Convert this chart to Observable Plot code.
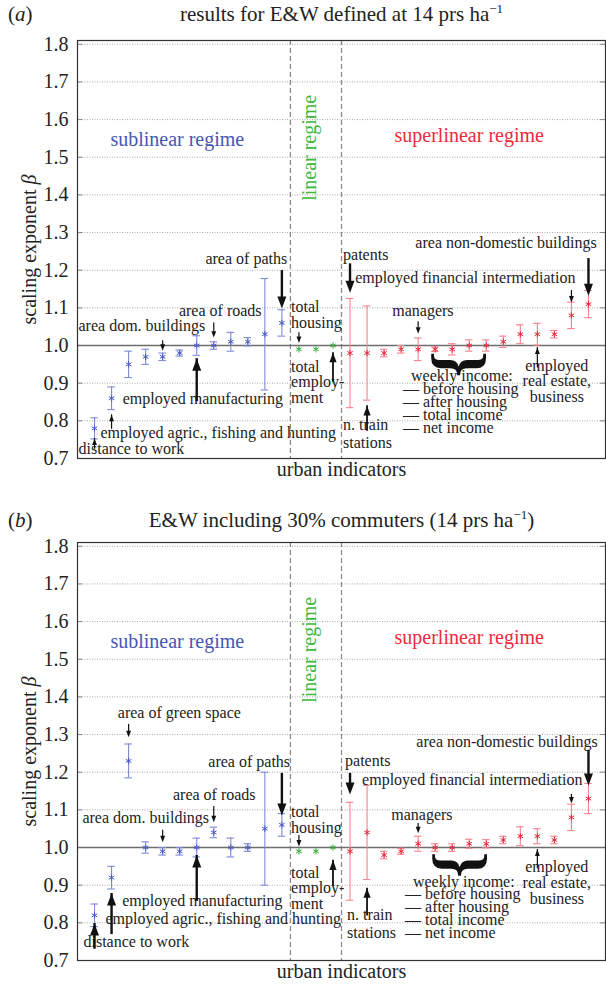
<!DOCTYPE html>
<html><head><meta charset="utf-8">
<script src="https://cdn.jsdelivr.net/npm/d3@7"></script>
<script src="https://cdn.jsdelivr.net/npm/@observablehq/plot@0.6"></script>
<style>
body{margin:0;background:#fff;font-family:"Liberation Serif",serif;color:#222;}
#wrap{width:606px;}
.hdr{position:relative;width:606px;}
.hdr .lab{position:absolute;left:8px;font-size:21px;line-height:20px;}
.hdr .ttl{position:absolute;left:77px;width:529px;text-align:center;font-size:21px;line-height:20px;white-space:nowrap;}
.sp{font-size:13px;position:relative;top:-8px;}
svg{display:block;}
svg text{font-family:"Liberation Serif",serif !important;}
</style></head><body><div id="wrap">
<div class="hdr" style="height:30px"><span class="lab" style="top:4px">(<i>a</i>)</span><span class="ttl" style="top:4px">results for E&amp;W defined at 14 prs ha<span class="sp">−1</span></span></div>
<div id="pa"></div>
<div class="hdr" style="height:50px"><span class="lab" style="top:28px">(<i>b</i>)</span><span class="ttl" style="top:28px">E&amp;W including 30% commuters (14 prs ha<span class="sp">−1</span>)</span></div>
<div id="pb"></div>
</div>
<script>
// indicator positions (1..30) and regimes
const idxSub = [1,2,3,4,5,6,7,8,9,10,11,12];
const idxLin = [13,14,15];
const idxSup = [16,17,18,19,20,21,22,23,24,25,26,27,28,29,30];
const yTicks = [0.7,0.8,0.9,1.0,1.1,1.2,1.3,1.4,1.5,1.6,1.7,1.8];

// panel (a)
const betaA_sub = [0.78,0.86,0.95,0.97,0.97,0.98,1.00,1.00,1.01,1.01,1.03,1.06];
const errA_sub  = [0.028,0.03,0.035,0.02,0.01,0.008,0.026,0.01,0.025,0.011,0.148,0.035];
const betaA_lin = [0.99,0.99,1.00];
const errA_lin  = [0.003,0.003,0.003];
const betaA_sup = [0.98,0.98,0.98,0.99,0.99,0.99,0.99,1.00,1.00,1.01,1.03,1.03,1.03,1.08,1.11];
const errA_sup  = [0.145,0.125,0.01,0.01,0.03,0.006,0.015,0.015,0.015,0.015,0.025,0.029,0.01,0.035,0.036];

// panel (b)
const betaB_sub = [0.82,0.92,1.23,1.00,0.99,0.99,1.00,1.04,1.00,1.00,1.05,1.06];
const errB_sub  = [0.03,0.03,0.045,0.015,0.01,0.01,0.025,0.014,0.025,0.01,0.15,0.03];
const betaB_lin = [0.99,0.99,1.00];
const errB_lin  = [0.003,0.003,0.003];
const betaB_sup = [0.99,1.04,0.98,0.99,1.01,1.00,1.00,1.01,1.01,1.02,1.03,1.03,1.02,1.08,1.13];
const errB_sup  = [0.13,0.125,0.01,0.008,0.02,0.01,0.01,0.012,0.011,0.01,0.025,0.02,0.01,0.035,0.04];

// annotations (x in indicator units, y in beta units)
const notesA = [
 {a:"middle", x:9.91, y:1.217, t:"area of paths"},
 {a:"start", x:12.54, y:1.047, t:"total\nhousing", lh:1.0},
 {a:"start", x:12.54, y:0.848, t:"total\nemploy-\nment", lh:0.97},
 {a:"start", x:15.59, y:1.228, t:"patents"},
 {a:"start", x:16.3, y:1.167, t:"employed financial intermediation"},
 {a:"end", x:30.48, y:1.260, t:"area non-domestic buildings"},
 {a:"middle", x:20.28, y:1.079, t:"managers"},
 {a:"middle", x:22.57, y:0.906, t:"weekly income:"},
 {a:"start", x:19.11, y:0.768, t:"— before housing\n— after housing\n— total income\n— net income", lh:0.81},
 {a:"middle", x:28.14, y:0.851, t:"employed\nreal estate,\nbusiness", lh:0.97},
 {a:"start", x:15.59, y:0.728, t:"n. train\nstations", lh:1.12},
 {a:"start", x:0.06, y:1.039, t:"area dom. buildings"},
 {a:"middle", x:8.38, y:1.079, t:"area of roads"},
 {a:"middle", x:7.36, y:0.845, t:"employed manufacturing"},
 {a:"start", x:1.35, y:0.755, t:"employed agric., fishing and hunting"},
 {a:"start", x:0.06, y:0.7125, t:"distance to work"}
];
const arrowsA = [
 {i:1, y1:0.739, y2:0.753, s:"S"},
 {i:2, y1:0.792, y2:0.816, s:"S"},
 {i:5, y1:1.013, y2:0.986, s:"S"},
 {i:8, y1:1.060, y2:1.021, s:"S"},
 {i:7, y1:0.880, y2:0.965, s:"L"},
 {i:12, y1:1.199, y2:1.098, s:"L"},
 {i:13, y1:1.034, y2:1.007, s:"S"},
 {i:15, y1:0.925, y2:0.981, s:"M"},
 {i:16, y1:1.217, y2:1.140, s:"L"},
 {i:17, y1:0.795, y2:0.840, s:"M"},
 {i:20, y1:1.063, y2:1.031, s:"S"},
 {i:27, y1:0.955, y2:0.995, s:"S"},
 {i:29, y1:1.146, y2:1.114, s:"S"},
 {i:30, y1:1.231, y2:1.132, s:"L"}
];
const braceA = {x:22.5, y:0.950};

const notesB = [
 {a:"middle", x:5.98, y:1.343, t:"area of green space"},
 {a:"middle", x:10.08, y:1.213, t:"area of paths"},
 {a:"middle", x:8.03, y:1.125, t:"area of roads"},
 {a:"start", x:0.29, y:1.064, t:"area dom. buildings"},
 {a:"middle", x:7.33, y:0.846, t:"employed manufacturing"},
 {a:"start", x:1.64, y:0.798, t:"employed agric., fishing and hunting"},
 {a:"start", x:0.35, y:0.735, t:"distance to work"},
 {a:"start", x:12.54, y:1.038, t:"total\nhousing", lh:1.0},
 {a:"start", x:12.54, y:0.838, t:"total\nemploy-\nment", lh:0.97},
 {a:"start", x:15.71, y:1.216, t:"patents"},
 {a:"start", x:16.71, y:1.165, t:"employed financial intermediation"},
 {a:"end", x:30.54, y:1.266, t:"area non-domestic buildings"},
 {a:"middle", x:20.22, y:1.072, t:"managers"},
 {a:"middle", x:22.68, y:0.894, t:"weekly income:"},
 {a:"start", x:19.23, y:0.761, t:"— before housing\n— after housing\n— total income\n— net income", lh:0.81},
 {a:"middle", x:28.14, y:0.849, t:"employed\nreal estate,\nbusiness", lh:1.0},
 {a:"start", x:15.83, y:0.759, t:"n. train\nstations", lh:1.12}
];
const arrowsB = [
 {i:1, y1:0.759, y2:0.798, s:"L"},
 {i:2, y1:0.798, y2:0.878, s:"L"},
 {i:3, y1:1.327, y2:1.293, s:"S"},
 {i:5, y1:1.046, y2:1.014, s:"S"},
 {i:8, y1:1.109, y2:1.067, s:"S"},
 {i:7, y1:0.886, y2:0.979, s:"L"},
 {i:12, y1:1.197, y2:1.085, s:"L"},
 {i:13, y1:1.032, y2:1.003, s:"S"},
 {i:15, y1:0.921, y2:0.966, s:"M"},
 {i:16, y1:1.197, y2:1.141, s:"L"},
 {i:17, y1:0.841, y2:0.892, s:"M"},
 {i:20, y1:1.064, y2:1.038, s:"S"},
 {i:27, y1:0.958, y2:0.995, s:"S"},
 {i:29, y1:1.141, y2:1.117, s:"S"},
 {i:30, y1:1.258, y2:1.165, s:"L"}
];
const braceB = {x:22.6, y:0.954};

const regimeLabels = [
 {x:5.86, y:1.531, t:"sublinear regime", c:"#4656b3", rot:0},
 {x:13.6, y:1.525, t:"linear regime", c:"#3db83d", rot:-90},
 {x:23.0, y:1.54, t:"superlinear regime", c:"#ec2a3c", rot:0}
];

const markerColor = {sub:"#4a5bc4", lin:"#36ad36", sup:"#e8283c"};
const barColor = {sub:"#7d8ad6", lin:"#7fcf7f", sup:"#f5848f"};

function rows(beta, err, idx, reg){ return idx.map((i,k)=>({i, beta:beta[k], err:err[k], reg})); }

const triUp = {draw(ctx, size){ const r=Math.sqrt(size/Math.PI); ctx.moveTo(0,0); ctx.lineTo(-0.9*r, 2.4*r); ctx.lineTo(0.9*r, 2.4*r); ctx.closePath(); }};
const triDown = {draw(ctx, size){ const r=Math.sqrt(size/Math.PI); ctx.moveTo(0,0); ctx.lineTo(-0.9*r, -2.4*r); ctx.lineTo(0.9*r, -2.4*r); ctx.closePath(); }};

function arrowMarks(arr){
  return arr.flatMap(a=>{
    const up = a.y2 > a.y1;
    const r = {L:5, M:4, S:2.7}[a.s];
    const sw = {L:2.4, M:1.8, S:1.2}[a.s];
    const inset = 2.4*r - 1;
    const ropt = {x:"i", y1:"y1", y2:"y2", stroke:"#111", strokeWidth:sw};
    if (up) ropt.insetTop = inset; else ropt.insetBottom = inset;
    return [
      Plot.ruleX([a], ropt),
      Plot.dot([a], {x:"i", y:"y2", r, symbol: up ? triUp : triDown, fill:"#111", stroke:"none"})
    ];
  });
}

function noteMarks(notes){
  return notes.map(n => Plot.text([n], {x:"x", y:"y", text:"t", textAnchor:n.a, lineAnchor:"bottom",
    lineHeight:n.lh || 1, fontSize:16, fill:"#222"}));
}

function panel(data, notes, arrows, brace){
  const svg = Plot.plot({
    width:606, height:452, marginLeft:77, marginRight:1, marginTop:10, marginBottom:24,
    style:{fontFamily:"'Liberation Serif', serif", fontSize:"20px", color:"#222", background:"#fff"},
    x:{domain:[0,31], axis:null},
    y:{domain:[0.7,1.81], axis:null},
    marks:[
      Plot.gridY(yTicks, {stroke:"#aaa", strokeOpacity:1, strokeDasharray:"1,1.5"}),
      Plot.ruleY(yTicks, {x1:0, x2:0.3, stroke:"#888"}),
      Plot.ruleY(yTicks, {x1:30.7, x2:31, stroke:"#888"}),
      Plot.ruleX([12.5,15.5], {stroke:"#8a8a8a", strokeWidth:1.3, strokeDasharray:"5,3"}),
      Plot.ruleY([1], {stroke:"#6e6e6e", strokeWidth:1.4}),
      Plot.ruleX(data, {x:"i", y1:d=>d.beta-d.err, y2:d=>d.beta+d.err, stroke:d=>barColor[d.reg], strokeWidth:1.1}),
      Plot.ruleY(data.filter(d=>d.reg!=="lin"), {y:d=>d.beta+d.err, x1:d=>d.i-0.22, x2:d=>d.i+0.22, stroke:d=>barColor[d.reg], strokeWidth:1.1}),
      Plot.ruleY(data.filter(d=>d.reg!=="lin"), {y:d=>d.beta-d.err, x1:d=>d.i-0.22, x2:d=>d.i+0.22, stroke:d=>barColor[d.reg], strokeWidth:1.1}),
      Plot.dot(data, {x:"i", y:"beta", symbol:"asterisk", r:3, stroke:d=>markerColor[d.reg], strokeWidth:1}),
      Plot.axisY(yTicks, {tickSize:0, tickPadding:9, tickFormat:d3.format(".1f"), fontSize:20,
        label:"scaling exponent β", labelAnchor:"center", labelArrow:"none", labelOffset:56}),
      Plot.frame({stroke:"#333", strokeWidth:1.2}),
      ...regimeLabels.map(r => Plot.text([r], {x:"x", y:"y", text:"t", fill:r.c, fontSize:20, rotate:r.rot,
        textAnchor:"middle", lineAnchor: r.rot ? "middle" : "bottom"})),
      ...noteMarks(notes),
      ...arrowMarks(arrows),
      Plot.text([brace], {x:"x", y:"y", text:()=>"}", rotate:90, fontSize:66, fontWeight:"bold", fill:"#111",
        textAnchor:"middle", lineAnchor:"middle"}),
      Plot.text(["urban indicators"], {frameAnchor:"bottom", lineAnchor:"top", dy:3, fontSize:20, fill:"#222"})
    ]
  });
  // italic beta in the y-axis label
  svg.querySelectorAll("text").forEach(t => {
    if (t.textContent === "scaling exponent β" && t.children.length === 0) {
      t.textContent = "scaling exponent ";
      const ts = document.createElementNS("http://www.w3.org/2000/svg", "tspan");
      ts.setAttribute("font-style", "italic");
      ts.textContent = "β";
      t.appendChild(ts);
    }
  });
  return svg;
}

const dataA = [...rows(betaA_sub, errA_sub, idxSub, "sub"), ...rows(betaA_lin, errA_lin, idxLin, "lin"), ...rows(betaA_sup, errA_sup, idxSup, "sup")];
const dataB = [...rows(betaB_sub, errB_sub, idxSub, "sub"), ...rows(betaB_lin, errB_lin, idxLin, "lin"), ...rows(betaB_sup, errB_sup, idxSup, "sup")];

document.getElementById("pa").append(panel(dataA, notesA, arrowsA, braceA));
document.getElementById("pb").append(panel(dataB, notesB, arrowsB, braceB));
</script>
</body></html>
